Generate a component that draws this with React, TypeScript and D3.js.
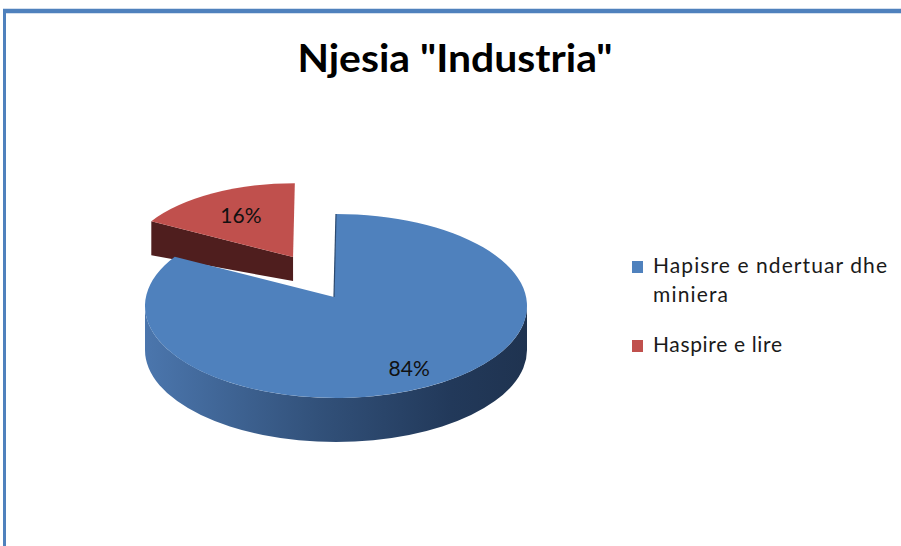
import React from "react";
import * as d3 from "d3";

const categories = ["Hapisre e ndertuar dhe miniera", "Haspire e lire"];
const legendLines = [["Hapisre e ndertuar dhe", "miniera"], ["Haspire e lire"]];
const values = [84, 16];
const title = 'Njesia "Industria"';

const W = 901, H = 546;
const topColors = ["#4f81bd", "#c0504d"];
const faceColors = ["#2c4a70", "#4f1e1e"];

// geometry (style)
const cx = 336, cy = 306, rx = 191, ry = 92;
const apex = { x: 334, y: 297 };
const thick = 44;
const explodeX = [0, 85], explodeY = [0, 45.6];
const persp = [1, 0.89];
const labelF = [0.8, 0.65];

type P = { x: number; y: number };

export default function App() {
  const arcs = d3.pie<number>().sort(null).startAngle(0).endAngle(2 * Math.PI)(values);

  const sliceGeom = arcs.map((a, i) => {
    const mid = (a.startAngle + a.endAngle) / 2;
    const off = { x: explodeX[i] * Math.sin(mid), y: -explodeY[i] * Math.cos(mid) };
    const s = persp[i];
    const ap: P = { x: apex.x + off.x, y: apex.y + off.y };
    const rim = (ang: number, f = 1): P => ({
      x: ap.x + s * f * (cx + rx * Math.sin(ang) - apex.x),
      y: ap.y + s * f * (cy - ry * Math.cos(ang) - apex.y),
    });
    return { a, i, mid, s, ap, rim };
  });

  const pieces: React.ReactNode[] = [];
  const order = [1, 0];
  order.forEach((i) => {
    const g = sliceGeom[i];
    const { a, s, ap, rim } = g;
    const a0 = a.startAngle, a1 = a.endAngle;
    const t = thick * s;
    const tA = i === 0 ? thick : 24;
    const tR = i === 0 ? thick : 34;
    const rX = rx * s, rY = ry * s;
    const s0 = Math.max(a0, Math.PI / 2), s1 = Math.min(a1, (3 * Math.PI) / 2);
    if (s1 > s0) {
      const p0 = rim(s0), p1 = rim(s1);
      const large = s1 - s0 > Math.PI ? 1 : 0;
      const d = `M${p0.x},${p0.y} A${rX},${rY} 0 ${large} 1 ${p1.x},${p1.y} L${p1.x},${p1.y + t} A${rX},${rY} 0 ${large} 0 ${p0.x},${p0.y + t} Z`;
      pieces.push(<path key={`wall${i}`} d={d} fill={i === 0 ? "url(#sideGrad)" : faceColors[i]} />);
    }
    if (-Math.sin(a0) > 0.01) {
      const p = rim(a0);
      const d = `M${ap.x},${ap.y} L${p.x},${p.y} L${p.x},${p.y + tR} L${ap.x},${ap.y + tA} Z`;
      pieces.push(<path key={`fs${i}`} d={d} fill={faceColors[i]} />);
    }
    if (Math.sin(a1) > 0.01) {
      const p = rim(a1);
      const d = `M${ap.x},${ap.y} L${p.x},${p.y} L${p.x},${p.y + tR} L${ap.x},${ap.y + tA} Z`;
      pieces.push(<path key={`fe${i}`} d={d} fill={faceColors[i]} />);
    }
    const p0 = rim(a0), p1 = rim(a1 - 1e-6);
    const large = a1 - a0 > Math.PI ? 1 : 0;
    const d = `M${ap.x},${ap.y} L${p0.x},${p0.y} A${rX},${rY} 0 ${large} 1 ${p1.x},${p1.y} Z`;
    pieces.push(<path key={`top${i}`} d={d} fill={topColors[i]} />);
    if (i === 0) {
      const q = rim(a0);
      pieces.push(<line key="edge" x1={ap.x} y1={ap.y} x2={q.x} y2={q.y} stroke="#2c4a70" strokeWidth={1.2} />);
    }
  });

  const total = d3.sum(values);
  const labelEls = sliceGeom.map((g) => {
    const p = g.rim(g.mid, labelF[g.i]);
    return (
      <text key={`lab${g.i}`} x={p.x} y={p.y + 7} textAnchor="middle" fontFamily="Lato, 'Open Sans', sans-serif" fontSize={21} fill="#111">
        {Math.round((values[g.i] / total) * 100)}%
      </text>
    );
  });

  const legendY = [261, 340];
  const legendLen = [[234, 75], [129]];
  const legend = categories.map((c, i) => (
    <g key={`leg${i}`}>
      <rect x={632} y={legendY[i]} width={11} height={12} fill={topColors[i]} />
      {legendLines[i].map((ln, j) => (
        <text key={j} x={653} y={legendY[i] + 12 + j * 29} fontFamily="Lato, 'Open Sans', sans-serif" fontSize={21} fill="#1a1a1a"
          textLength={legendLen[i][j]} lengthAdjust="spacing">
          {ln}
        </text>
      ))}
    </g>
  ));

  return (
    <svg width={W} height={H} style={{ position: "absolute", left: 0, top: 0 }} xmlns="http://www.w3.org/2000/svg">
      <defs>
        <linearGradient id="sideGrad" x1={cx - rx} x2={cx + rx} y1={0} y2={0} gradientUnits="userSpaceOnUse">
          <stop offset="0" stopColor="#4b76ad" />
          <stop offset="0.45" stopColor="#32517a" />
          <stop offset="0.8" stopColor="#22395a" />
          <stop offset="1" stopColor="#1f3350" />
        </linearGradient>
      </defs>
      <rect x={0} y={0} width={W} height={H} fill="#fff" />
      <line x1={3} y1={11} x2={W} y2={11} stroke="#4f81bd" strokeWidth={4.5} />
      <line x1={4.5} y1={9} x2={4.5} y2={H} stroke="#4f81bd" strokeWidth={3} />
      <text x={455} y={72} textAnchor="middle" fontFamily="Lato, 'Open Sans', sans-serif" fontWeight="bold" fontSize={39} fill="#000"
        textLength={315} lengthAdjust="spacingAndGlyphs">
        {title}
      </text>
      {pieces}
      {labelEls}
      {legend}
    </svg>
  );
}
